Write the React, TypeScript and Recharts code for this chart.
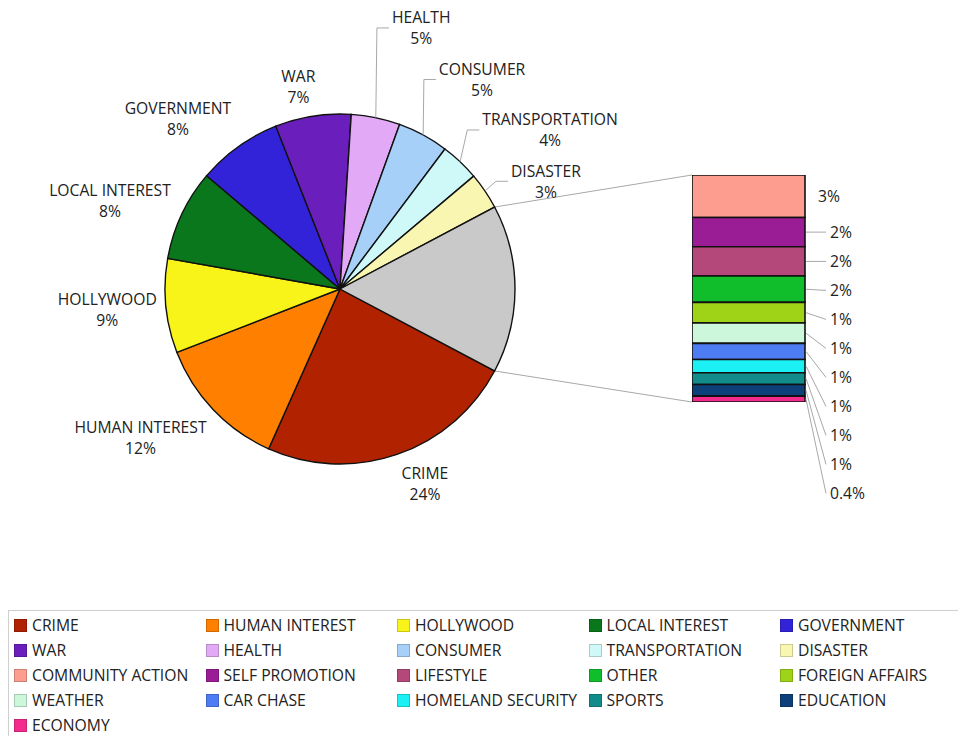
import React from 'react';
import { PieChart, Pie, Cell, BarChart, Bar, XAxis, YAxis, LabelList } from 'recharts';

// Main story categories shown as pie slices (share of stories, %)
const pieNames = [
  'CRIME', 'HUMAN INTEREST', 'HOLLYWOOD', 'LOCAL INTEREST', 'GOVERNMENT',
  'WAR', 'HEALTH', 'CONSUMER', 'TRANSPORTATION', 'DISASTER',
];
const pieValues = [23.9, 12.4, 8.7, 8.4, 7.8, 7.0, 4.5, 4.7, 3.6, 3.4];
const pieColors = [
  '#B02200', '#FF8000', '#F8F41A', '#0A771C', '#3223D8',
  '#6A1EBB', '#E2AAF6', '#A6D0F7', '#CFF8F8', '#F9F6B2',
];

// Minor categories, grouped into the grey slice and broken out in the stacked bar
const barNames = [
  'COMMUNITY ACTION', 'SELF PROMOTION', 'LIFESTYLE', 'OTHER', 'FOREIGN AFFAIRS',
  'WEATHER', 'CAR CHASE', 'HOMELAND SECURITY', 'SPORTS', 'EDUCATION', 'ECONOMY',
];
const barValues = [2.9, 2.0, 2.0, 1.8, 1.4, 1.4, 1.1, 0.9, 0.8, 0.8, 0.4];
const barColors = [
  '#FC9D90', '#9A1D96', '#B5487A', '#10BE2C', '#9FD317',
  '#CDF7DA', '#4D7CF3', '#1BF0F4', '#128B8B', '#0D3F78', '#F42A8D',
];
const restColor = '#C9C9C9';

// Layout
const FONT = '"Open Sans", "Noto Sans", sans-serif';
const FONT_SIZE = 15.7;
const TEXT = '#222';
const PIE = { cx: 340, cy: 289, r: 175 };
const BAR = { x: 692, y: 175, w: 113, h: 227 };
const BAR_LABEL_GAP = 29;
// hand placement of slice labels relative to the automatic position
const pieLabelNudge: [number, number][] = [
  [5, 0], [2, 2], [3, -2], [0, 9], [0, 0], [-6, 0], [28, -60], [10, -27], [14, -5], [16, 15],
];

const restTotal = barValues.reduce((a, b) => a + b, 0);
const pieTotal = pieValues.reduce((a, b) => a + b, 0) + restTotal;
const halfRestAngle = (restTotal / pieTotal) * 180;

const pieData = [
  ...pieNames.map((name, i) => ({ name, value: pieValues[i] })),
  { name: 'REST', value: restTotal },
];
const pieFills = [...pieColors, restColor];

const barRow: Record<string, number | string> = { name: 'rest' };
barValues.forEach((v, i) => { barRow[`s${i}`] = v; });
const barCum: number[] = [];
barValues.reduce((acc, v, i) => { barCum[i] = acc; return acc + v; }, 0);

const legendItems = [
  ...pieNames.map((n, i) => ({ name: n, color: pieColors[i] })),
  ...barNames.map((n, i) => ({ name: n, color: barColors[i] })),
];

// whole percent, or one decimal when the share rounds to zero
const fmtPct = (v: number) => (Math.round(v) >= 1 ? `${Math.round(v)}%` : `${v.toFixed(1)}%`);

let ctx: CanvasRenderingContext2D | null = null;
const textWidth = (s: string) => {
  if (!ctx) ctx = document.createElement('canvas').getContext('2d');
  if (!ctx) return s.length * FONT_SIZE * 0.6;
  ctx.font = `${FONT_SIZE}px ${FONT}`;
  return ctx.measureText(s).width;
};

const RAD = Math.PI / 180;

const renderPieLabel = (props: any) => {
  const { cx, cy, midAngle, outerRadius, index } = props;
  if (index >= pieNames.length) return null;
  const name = pieNames[index];
  const value = pieValues[index];
  const ux = Math.cos(midAngle * RAD);
  const uy = -Math.sin(midAngle * RAD);
  const ar = outerRadius + 12;
  const ax = cx + ar * ux;
  const ay = cy + ar * uy;
  const hw = Math.max(textWidth(name), textWidth(fmtPct(value))) / 2;
  const hh = 18;
  const k = 2.5;
  const [nx, ny] = pieLabelNudge[index] || [0, 0];
  const lx = ax + Math.sign(ux) * hw * Math.min(1, k * Math.abs(ux)) + nx;
  const ly = ay + Math.sign(uy) * hh * Math.min(1, k * Math.abs(uy)) + ny;
  const moved = Math.hypot(nx, ny) > 12;
  const ex = cx + outerRadius * ux;
  const ey = cy + outerRadius * uy;
  const left = lx - hw;
  return (
    <g key={`pl-${index}`}>
      {moved && (
        <polyline
          points={`${ex},${ey} ${left - 15},${ly} ${left - 3},${ly}`}
          fill="none"
          stroke="#A8A8A8"
          strokeWidth={1}
        />
      )}
      <text x={lx} y={ly - 10.5} textAnchor="middle" dominantBaseline="central"
        fontFamily={FONT} fontSize={FONT_SIZE} fill={TEXT}>{name}</text>
      <text x={lx} y={ly + 10.5} textAnchor="middle" dominantBaseline="central"
        fontFamily={FONT} fontSize={FONT_SIZE} fill={TEXT}>{fmtPct(value)}</text>
    </g>
  );
};

// label centres below the bar top, pushed down so they never overlap
const barLabelOffsets = (ppu: number) => {
  const out: number[] = [];
  let prev = -Infinity;
  barValues.forEach((v, i) => {
    const mid = (barCum[i] + v / 2) * ppu;
    const pos = Math.max(mid, prev + BAR_LABEL_GAP);
    out.push(pos);
    prev = pos;
  });
  return out;
};

const renderBarLabel = (p: any, i: number) => {
  const vb = p.viewBox ?? p;
  const x = Number(vb.x ?? p.x);
  const y = Number(vb.y ?? p.y);
  const w = Number(vb.width ?? p.width);
  const h = Number(vb.height ?? p.height);
  const top = Math.min(y, y + h);
  const hgt = Math.abs(h);
  const ppu = hgt / barValues[i];
  const barTop = top - barCum[i] * ppu;
  const ly = barTop + barLabelOffsets(ppu)[i];
  const right = x + w;
  const mid = top + hgt / 2;
  const lx = i === 0 ? right + 13 : right + 25;
  return (
    <g key={`bl-${i}`}>
      {i > 0 && (
        <line x1={right + 1} y1={mid} x2={lx - 4} y2={ly} stroke="#A8A8A8" strokeWidth={1} />
      )}
      <text x={lx} y={ly} dominantBaseline="central" fontFamily={FONT}
        fontSize={FONT_SIZE} fill={TEXT}>{fmtPct(barValues[i])}</text>
    </g>
  );
};

const Connectors = () => {
  const ex = PIE.cx + PIE.r * Math.cos(halfRestAngle * RAD);
  const dy = PIE.r * Math.sin(halfRestAngle * RAD);
  return (
    <svg width={958} height={600} style={{ position: 'absolute', left: 0, top: 0, pointerEvents: 'none' }}>
      <line x1={ex} y1={PIE.cy - dy} x2={BAR.x} y2={BAR.y} stroke="#A8A8A8" strokeWidth={1} />
      <line x1={ex} y1={PIE.cy + dy} x2={BAR.x} y2={BAR.y + BAR.h} stroke="#A8A8A8" strokeWidth={1} />
    </svg>
  );
};

const LegendBox = () => (
  <div style={{
    position: 'absolute', left: 8, top: 610, width: 980, height: 140,
    border: '1px solid #CFCFCF', boxSizing: 'border-box',
  }}>
    {legendItems.map((it, i) => {
      const col = i % 5;
      const row = Math.floor(i / 5);
      return (
        <div key={it.name} style={{
          position: 'absolute', left: 5 + col * 191.5, top: 14 + row * 25 - 12,
          height: 24, display: 'flex', alignItems: 'center', whiteSpace: 'nowrap',
        }}>
          <span style={{
            display: 'inline-block', width: 13, height: 13, background: it.color,
            boxShadow: 'inset 0 0 0 1px rgba(0,0,0,0.18)', marginRight: 5,
          }} />
          <span style={{ fontFamily: FONT, fontSize: FONT_SIZE, color: TEXT }}>{it.name}</span>
        </div>
      );
    })}
  </div>
);

export default function App() {
  return (
    <div style={{ position: 'absolute', left: 0, top: 0, width: 958, height: 736, overflow: 'hidden', background: '#fff' }}>
      <Connectors />
      <div style={{ position: 'absolute', left: 0, top: 0 }}>
        <PieChart width={958} height={600} margin={{ top: 0, right: 0, bottom: 0, left: 0 }}>
          <Pie
            data={pieData}
            dataKey="value"
            nameKey="name"
            cx={PIE.cx}
            cy={PIE.cy}
            outerRadius={PIE.r}
            startAngle={-halfRestAngle}
            endAngle={-halfRestAngle - 360}
            stroke="#111"
            strokeWidth={1.4}
            label={renderPieLabel}
            labelLine={false}
            isAnimationActive={false}
          >
            {pieData.map((d, i) => (
              <Cell key={d.name} fill={pieFills[i]} />
            ))}
          </Pie>
        </PieChart>
      </div>
      <div style={{ position: 'absolute', left: BAR.x, top: BAR.y }}>
        <BarChart
          width={200}
          height={340}
          data={[barRow]}
          margin={{ top: 0, right: 200 - BAR.w, bottom: 340 - BAR.h, left: 0 }}
          barCategoryGap={0}
        >
          <XAxis dataKey="name" hide />
          <YAxis type="number" hide reversed domain={[0, restTotal]} allowDataOverflow />
          {barValues.map((_, i) => (
            <Bar key={i} dataKey={`s${i}`} stackId="rest" fill={barColors[i]}
              stroke="#111" strokeWidth={1.6} isAnimationActive={false}>
              <LabelList dataKey={`s${i}`} content={(p: any) => renderBarLabel(p, i)} />
            </Bar>
          ))}
        </BarChart>
      </div>
      <LegendBox />
    </div>
  );
}
